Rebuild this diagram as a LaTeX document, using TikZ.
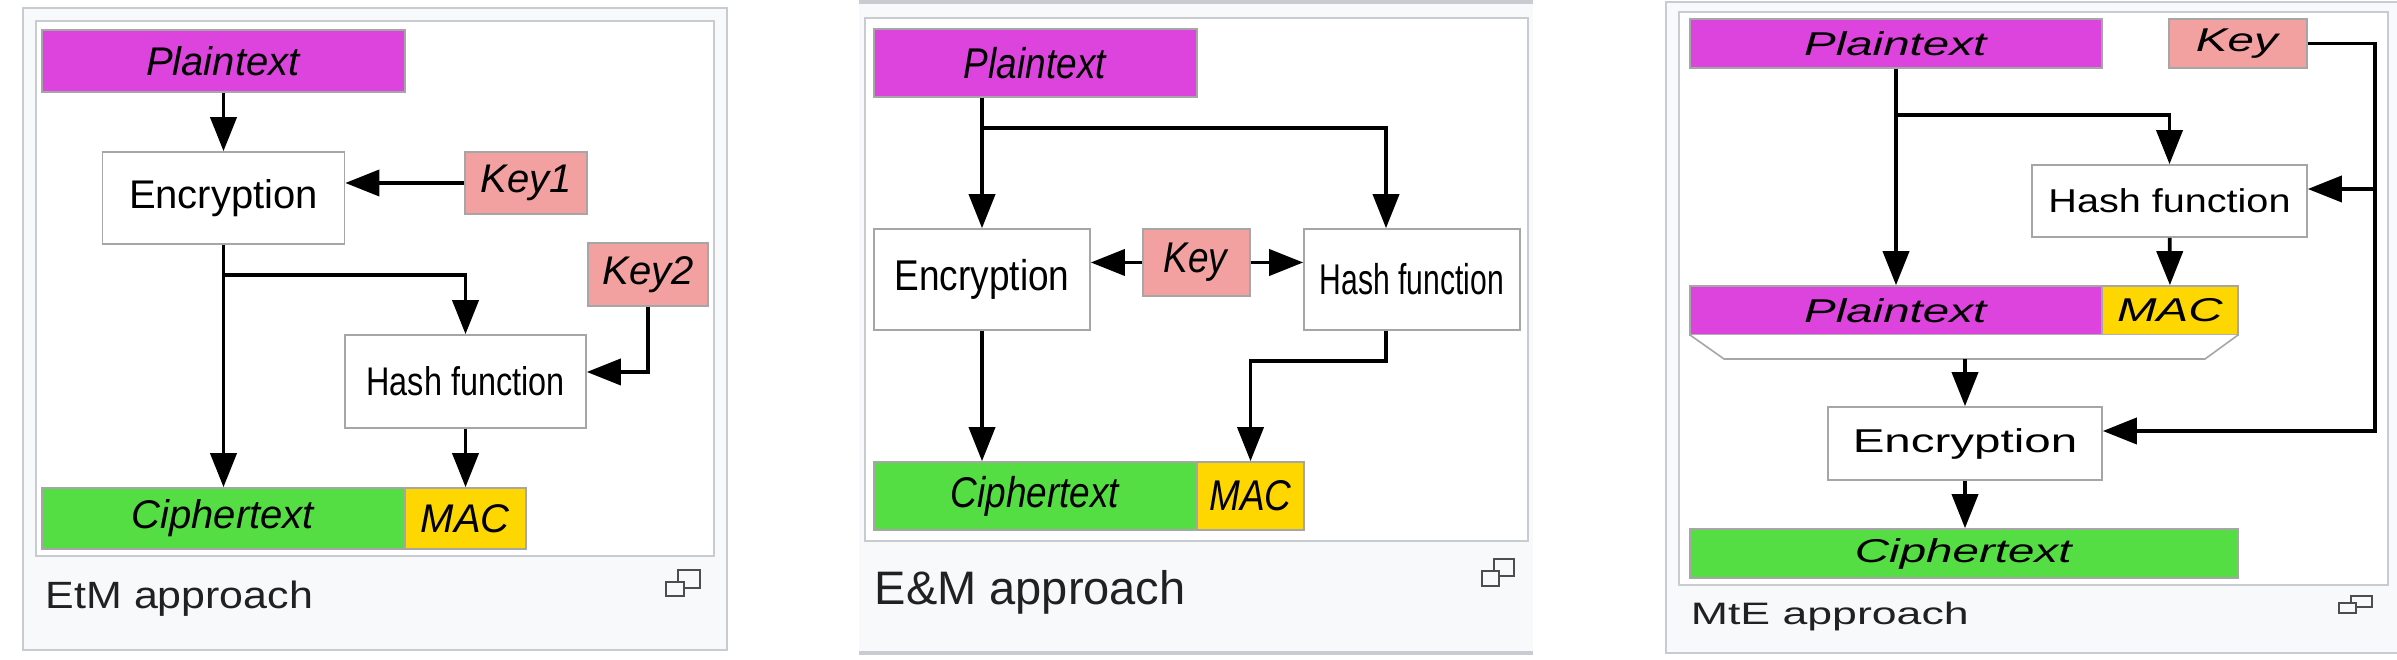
\documentclass[tikz,border=0pt]{standalone}
\usepackage{fontspec}
\setmainfont{Liberation Sans}
\newfontfamily\etmfont{Liberation Sans}
\newfontfamily\etmhash[FakeStretch=0.81]{Liberation Sans}
\newfontfamily\etmcap[FakeStretch=1.13]{Liberation Sans}
\newfontfamily\emfont[FakeStretch=0.86]{Liberation Sans}
\newfontfamily\emhash[FakeStretch=0.70]{Liberation Sans}
\newfontfamily\mtefont[FakeStretch=1.44]{Liberation Sans}
\newfontfamily\mtehash[FakeStretch=1.2]{Liberation Sans}
\usetikzlibrary{arrows.meta}
\definecolor{ptmag}{HTML}{DD44DD}
\definecolor{keypink}{HTML}{F2A0A0}
\definecolor{ctgreen}{HTML}{55DD44}
\definecolor{macyel}{HTML}{FFD700}
\definecolor{wikiborder}{HTML}{C8CCD1}
\definecolor{wikibg}{HTML}{F8F9FA}
\definecolor{wikitext}{HTML}{202122}

\tikzset{
  blk/.style={draw=gray!70, line width=0.4pt, inner sep=0pt, text=black},
  ptbox/.style={blk, fill=ptmag},
  keybox/.style={blk, fill=keypink},
  ctbox/.style={blk, fill=ctgreen},
  macbox/.style={blk, fill=macyel},
  fnbox/.style={blk, fill=white},
  arr/.style={-{Triangle[length=8.5pt,width=6.5pt]}, line width=0.95pt},
  outer/.style={draw=wikiborder, fill=wikibg, line width=0.7pt},
  inner/.style={draw=wikiborder, fill=white, line width=0.6pt},
  caption/.style={anchor=base west, inner sep=0pt, text=wikitext},
  icon/.style={draw=wikitext!80, line width=0.6pt}
}

\begin{document}
\begin{tikzpicture}[x=0.25pt, y=-0.25pt]
\useasboundingbox (0,0) rectangle (2397,660);

\begin{scope}[font=\etmfont\fontsize{10}{12}\selectfont]
  \draw[outer] (23,8) rectangle (727,650);
  \draw[inner] (36,21) rectangle (714,556);
  \node[ptbox, minimum width=90.75pt, minimum height=15.5pt] (pta) at (223.5,61) {\textit{Plaintext}};
  \node[fnbox, minimum width=60.5pt, minimum height=23pt] (enca) at (223.5,198) {Encryption};
  \node[keybox, minimum width=30.5pt, minimum height=15.5pt] (keya) at (526,183) {\textit{Key1}};
  \node[keybox, minimum width=30pt, minimum height=15.75pt] (keyb) at (648,274.5) {\textit{Key2}};
  \node[fnbox, minimum width=60.25pt, minimum height=23.25pt, font=\etmhash\fontsize{10}{12}\selectfont] (hasha) at (465.5,381.5) {Hash function};
  \node[ctbox, minimum width=90.75pt, minimum height=15.25pt] (cta) at (223.5,518.5) {\textit{Ciphertext}};
  \node[macbox, minimum width=30.25pt, minimum height=15.25pt] (maca) at (465.5,518.5) {\textit{MAC}};
  \coordinate (ja) at (223.5,275);
  \coordinate (k2h) at (648,372);
  \draw[arr] (pta) -- (enca);
  \draw[arr] (keya) -- (keya -| enca.east);
  \draw[arr] (enca) -- (cta);
  \draw[arr] (ja) -| (hasha.north);
  \draw[arr] (keyb.south) -- (k2h) -- (k2h -| hasha.east);
  \draw[arr] (hasha) -- (maca);
  \node[caption, font=\etmcap\fontsize{9.5}{11}\selectfont] (capa) at (45,609) {EtM approach};
  \draw[icon] (678,570) rectangle (700,588);
  \draw[icon, fill=wikibg] (666,582) rectangle (684,596);
\end{scope}

\begin{scope}[font=\emfont\fontsize{10.75}{13}\selectfont]
  \fill[wikibg] (859,2) rectangle (1533,653);
  \draw[wikiborder, line width=0.9pt] (859,2) -- (1533,2);
  \draw[wikiborder, line width=0.9pt] (859,653) -- (1533,653);
  \draw[inner] (865,18) rectangle (1528,541);
  \node[ptbox, minimum width=80.75pt, minimum height=17pt] (ptb) at (1035.5,63) {\textit{Plaintext}};
  \node[fnbox, minimum width=54pt, minimum height=25.25pt] (encb) at (982,279.5) {Encryption};
  \node[keybox, minimum width=26.75pt, minimum height=16.75pt] (keyc) at (1196.5,262.5) {\textit{Key}};
  \node[fnbox, minimum width=54pt, minimum height=25.25pt, font=\emhash\fontsize{10.75}{13}\selectfont] (hashb) at (1412,279.5) {Hash function};
  \node[ctbox, minimum width=80.75pt, minimum height=17pt] (ctb) at (1035.5,496) {\textit{Ciphertext}};
  \node[macbox, minimum width=26.75pt, minimum height=17pt] (macb) at (1250.5,496) {\textit{MAC}};
  \coordinate (jb) at (982,128);
  \coordinate (hb) at (1386,128);
  \coordinate (hm) at (1386,361);
  \draw[arr] (ptb.south -| encb.north) -- (encb.north);
  \draw[arr] (jb) -- (hb) -- (hb |- hashb.north);
  \draw[arr] (keyc) -- (keyc -| encb.east);
  \draw[arr] (keyc) -- (keyc -| hashb.west);
  \draw[arr] (encb.south) -- (encb.south |- ctb.north);
  \draw[arr] (hm |- hashb.south) -- (hm) -| (macb.north);
  \node[caption, font=\etmfont\fontsize{11.75}{14}\selectfont] (capb) at (874,605) {E\&M approach};
  \draw[icon] (1494,559) rectangle (1514,576);
  \draw[icon, fill=wikibg] (1482,571) rectangle (1499,586);
\end{scope}

\begin{scope}[font=\mtefont\fontsize{8.25}{10}\selectfont]
  \fill[wikibg] (1666,2) rectangle (2397,653);
  \draw[wikiborder, line width=0.7pt] (2397,2) -- (1666,2) -- (1666,653) -- (2397,653);
  \draw[inner] (1679,12) rectangle (2388,585);
  \node[ptbox, minimum width=103pt, minimum height=12.25pt] (ptc) at (1896,43.5) {\textit{Plaintext}};
  \node[keybox, minimum width=34.5pt, minimum height=12.25pt] (keyd) at (2238,43.5) {\textit{Key}};
  \node[fnbox, minimum width=68.75pt, minimum height=18pt, font=\mtehash\fontsize{8.25}{10}\selectfont] (hashc) at (2169.5,201) {Hash function};
  \node[ptbox, minimum width=103pt, minimum height=12.25pt] (ptd) at (1896,310.5) {\textit{Plaintext}};
  \node[macbox, minimum width=34pt, minimum height=12.25pt] (macd) at (2170,310.5) {\textit{MAC}};
  \draw[blk, fill=white] (1690,335) -- (1724,359) -- (2205,359) -- (2238,335);
  \node[fnbox, minimum width=68.5pt, minimum height=18.25pt] (encc) at (1965,443.5) {Encryption};
  \node[ctbox, minimum width=137pt, minimum height=12.25pt] (ctd) at (1964,553.5) {\textit{Ciphertext}};
  \coordinate (jc) at (1896,115);
  \coordinate (kbus) at (2375,43.5);
  \coordinate (kh) at (2375,189);
  \coordinate (ke) at (2375,431);
  \coordinate (trap) at (1965,359);
  \draw[arr] (ptc) -- (ptd);
  \draw[arr] (jc) -| (hashc.north);
  \draw[arr] (hashc) -- (macd);
  \draw[arr] (keyd.east) -- (kbus) -- (ke) -- (ke -| encc.east);
  \draw[arr] (kh) -- (kh -| hashc.east);
  \draw[arr] (trap) -- (encc);
  \draw[arr] (encc) -- (encc |- ctd.north);
  \node[caption, font=\mtefont\fontsize{7.75}{9}\selectfont] (capc) at (1690,625) {MtE approach};
  \draw[icon] (2351,596) rectangle (2372,607);
  \draw[icon, fill=wikibg] (2339,603) rectangle (2356,613);
\end{scope}
\end{tikzpicture}
\end{document}
